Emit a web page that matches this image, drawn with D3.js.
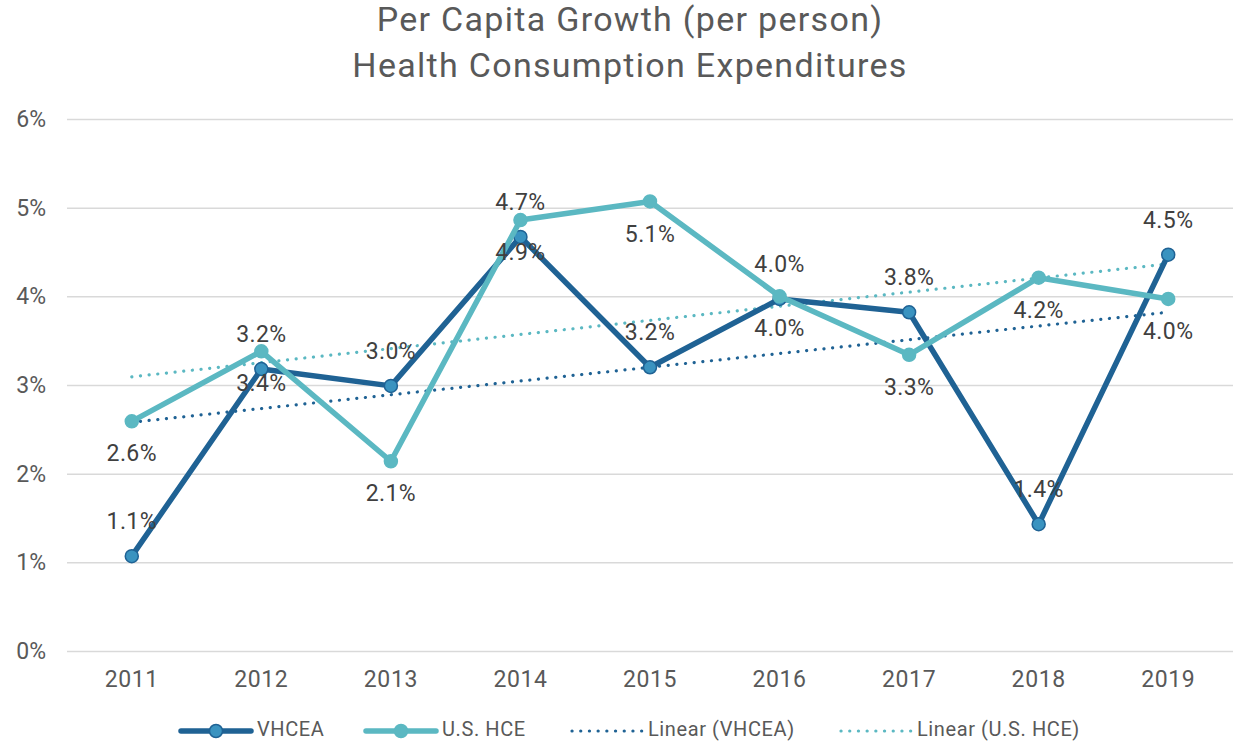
<!DOCTYPE html>
<html>
<head>
<meta charset="utf-8">
<style>
  body { margin: 0; background: #fff; }
  text { font-family: Roboto, "Liberation Sans", sans-serif; }
</style>
</head>
<body>
<svg id="chart" width="1237" height="744"></svg>
<script src="https://d3js.org/d3.v7.min.js"></script>
<script>
// data (percent growth)
var years = ["2011", "2012", "2013", "2014", "2015", "2016", "2017", "2018", "2019"];
var vhcea = [1.07, 3.18, 2.99, 4.67, 3.20, 3.97, 3.82, 1.43, 4.47];
var usHce = [2.59, 3.38, 2.14, 4.86, 5.07, 4.00, 3.34, 4.21, 3.97];
var yTicks = [0, 1, 2, 3, 4, 5, 6];
var titleLines = ["Per Capita Growth (per person)", "Health Consumption Expenditures"];
var legendNames = ["VHCEA", "U.S. HCE", "Linear (VHCEA)", "Linear (U.S. HCE)"];

var dark = "#1f6294", teal = "#5bb8c2", markFill = "#3a93c0";

var svg = d3.select("#chart");
var plotL = 67, plotR = 1233, plotT = 119, plotB = 651;

var x = d3.scaleBand().domain(years).range([plotL, plotR]);
var y = d3.scaleLinear().domain([0, 6]).range([plotB, plotT]);
var cx = function(d, i) { return x(years[i]) + x.bandwidth() / 2; };

// title
svg.append("g").selectAll("text").data(titleLines).enter().append("text")
  .attr("x", 630).attr("y", function(d, i) { return 22 + i * 46; })
  .attr("text-anchor", "middle").attr("dominant-baseline", "middle")
  .attr("font-size", 34).attr("letter-spacing", 1.3).attr("fill", "#595959")
  .text(function(d) { return d; });

// gridlines + y labels
var yAxis = svg.append("g").attr("transform", "translate(" + plotL + ",0)")
  .call(d3.axisLeft(y).tickValues(yTicks).tickSize(-(plotR - plotL)).tickFormat(function(d) { return d + "%"; }));
yAxis.select(".domain").remove();
yAxis.selectAll(".tick line").attr("stroke", "#d9d9d9").attr("stroke-width", 1.5);
yAxis.selectAll(".tick text").attr("x", -21).attr("font-size", 23).attr("fill", "#595959")
  .attr("font-family", "Roboto, sans-serif");

// x labels
var xAxis = svg.append("g").attr("transform", "translate(0," + plotB + ")")
  .call(d3.axisBottom(x).tickSize(0));
xAxis.select(".domain").remove();
xAxis.selectAll(".tick text").attr("y", 30).attr("dy", "0").attr("dominant-baseline", "middle")
  .attr("font-size", 23).attr("letter-spacing", 0.6).attr("fill", "#595959").attr("font-family", "Roboto, sans-serif");

// linear trend by least squares, like Excel's trendline
function trend(vals) {
  var n = vals.length, mx = (n - 1) / 2, my = d3.mean(vals);
  var sxy = d3.sum(vals, function(v, i) { return (i - mx) * (v - my); });
  var sxx = d3.sum(vals, function(v, i) { return (i - mx) * (i - mx); });
  var b = sxy / sxx;
  return vals.map(function(v, i) { return my + b * (i - mx); });
}

var line = d3.line().x(cx).y(function(d) { return y(d); });

[[vhcea, dark], [usHce, teal]].forEach(function(s) {
  svg.append("path").datum(trend(s[0])).attr("d", line)
    .attr("fill", "none").attr("stroke", s[1]).attr("stroke-width", 3.2)
    .attr("stroke-linecap", "round").attr("stroke-dasharray", "0.1 8.6");
});

function series(vals, color) {
  svg.append("path").datum(vals).attr("d", line)
    .attr("fill", "none").attr("stroke", color).attr("stroke-width", 5.5)
    .attr("stroke-linejoin", "round").attr("stroke-linecap", "round");
  svg.append("g").selectAll("circle").data(vals).enter().append("circle")
    .attr("cx", cx).attr("cy", function(d) { return y(d); }).attr("r", 6.5)
    .attr("fill", color === dark ? markFill : teal)
    .attr("stroke", color).attr("stroke-width", 1.5);
}
series(vhcea, dark);
series(usHce, teal);

// data labels: VHCEA above its points, U.S. HCE below
var fmt = function(d) { return d.toFixed(1) + "%"; };
function labels(vals, dy) {
  svg.append("g").selectAll("text").data(vals).enter().append("text")
    .attr("x", cx).attr("y", function(d) { return y(d) + dy; })
    .attr("text-anchor", "middle").attr("dominant-baseline", "middle")
    .attr("font-size", 23).attr("letter-spacing", 0.4).attr("fill", "#404040")
    .text(fmt);
}
labels(vhcea, -33);
labels(usHce, 34);

// legend
var legY = 731;
var legItems = [
  { name: legendNames[0], x0: 181, color: dark, dotted: false },
  { name: legendNames[1], x0: 366, color: teal, dotted: false },
  { name: legendNames[2], x0: 572, color: dark, dotted: true },
  { name: legendNames[3], x0: 841, color: teal, dotted: true }
];
var leg = svg.append("g").selectAll("g").data(legItems).enter().append("g");
leg.append("line")
  .attr("x1", function(d) { return d.x0; }).attr("x2", function(d) { return d.x0 + 70; })
  .attr("y1", legY).attr("y2", legY)
  .attr("stroke", function(d) { return d.color; })
  .attr("stroke-width", function(d) { return d.dotted ? 3.2 : 5.5; })
  .attr("stroke-linecap", "round")
  .attr("stroke-dasharray", function(d) { return d.dotted ? "0.1 8.6" : null; });
leg.filter(function(d) { return !d.dotted; }).append("circle")
  .attr("cx", function(d) { return d.x0 + 35; }).attr("cy", legY).attr("r", 6.5)
  .attr("fill", function(d) { return d.color === dark ? markFill : teal; })
  .attr("stroke", function(d) { return d.color; }).attr("stroke-width", 1.5);
leg.append("text")
  .attr("x", function(d) { return d.x0 + 76; }).attr("y", legY)
  .attr("dominant-baseline", "middle").attr("font-size", 20).attr("letter-spacing", 0.6).attr("fill", "#595959")
  .text(function(d) { return d.name; });
</script>
</body>
</html>
